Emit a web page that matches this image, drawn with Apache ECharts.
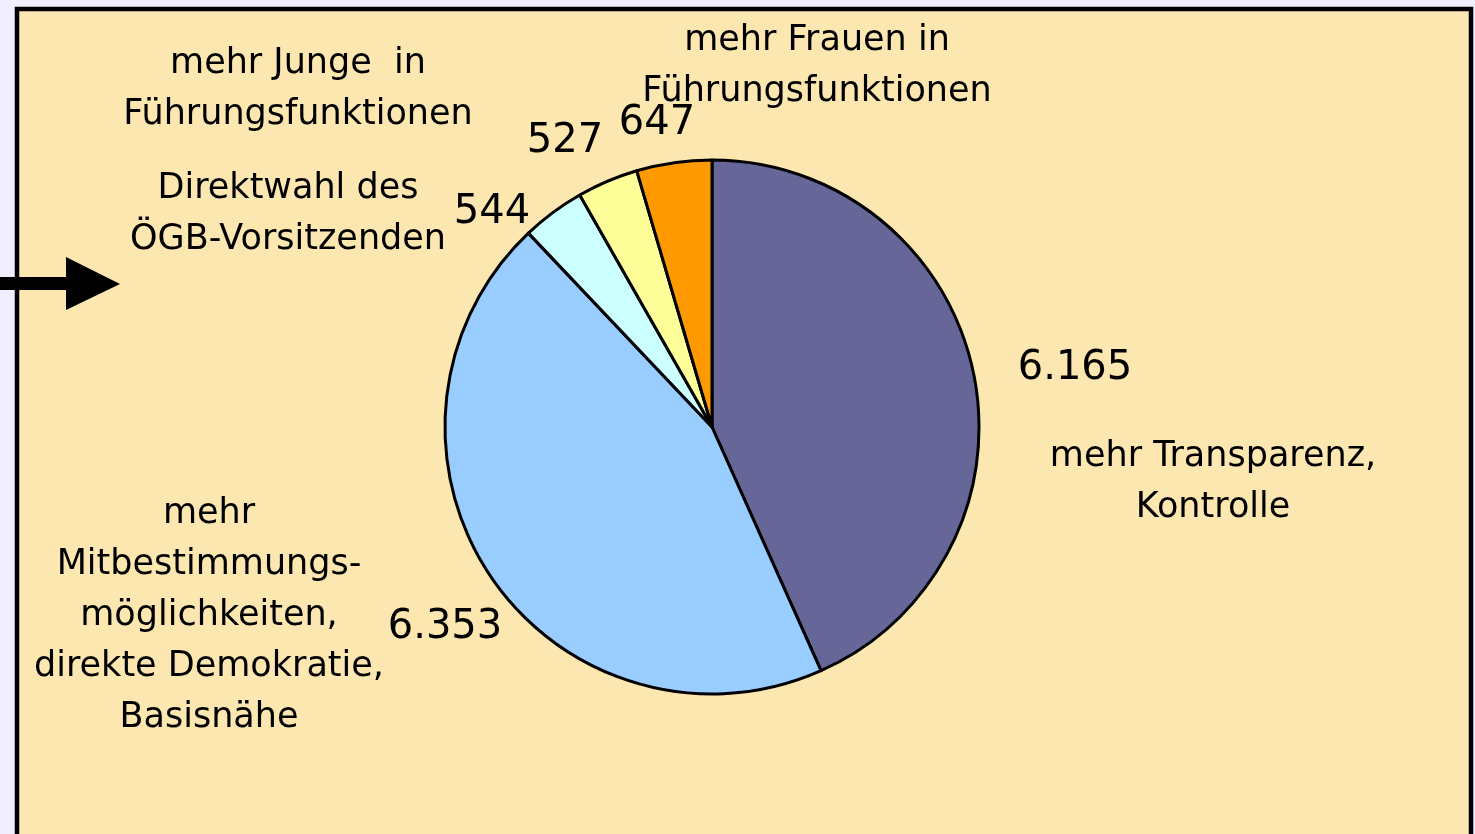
<!DOCTYPE html>
<html>
<head>
<meta charset="utf-8">
<script src="https://cdn.jsdelivr.net/npm/echarts@6/dist/echarts.min.js"></script>
<style>
  html, body { margin: 0; padding: 0; background: #EEEEFF; }
  #main { width: 1475px; height: 834px; }
</style>
</head>
<body>
<div id="main"></div>
<script>
// Daten (Uhrzeigersinn ab 12 Uhr)
const categories = [
    'mehr Transparenz,\nKontrolle',
    'mehr\nMitbestimmungs-\nmöglichkeiten,\ndirekte Demokratie,\nBasisnähe',
    'Direktwahl des\nÖGB-Vorsitzenden',
    'mehr Junge  in\nFührungsfunktionen',
    'mehr Frauen in\nFührungsfunktionen'
];
const values = [6165, 6353, 544, 527, 647];
const colors = ['#666699', '#99CCFF', '#CCFFFF', '#FFFF99', '#FF9900'];

// Positionen der Beschriftungen
const valuePos = [[1075, 369], [445, 628], [492, 213], [565, 142], [657, 124]];
const namePos = [[1213, 482], [209, 616], [288, 214], [298, 89], [817, 66]];

function fmt(v) {
    return String(v).replace(/\B(?=(\d{3})+(?!\d))/g, '.');
}

const pieData = values.map((v, i) => ({
    name: categories[i],
    value: v,
    itemStyle: { color: colors[i] }
}));

const chart = echarts.init(document.getElementById('main'));

const option = {
    backgroundColor: '#EEEEFF',
    animation: false,
    graphic: [
        {
            type: 'rect',
            z: -10,
            shape: { x: 17, y: 9, width: 1454, height: 840 },
            style: { fill: '#FDE7B1', stroke: '#000', lineWidth: 4.5 }
        },
        {
            type: 'rect',
            z: 5,
            shape: { x: 0, y: 277, width: 70, height: 13 },
            style: { fill: '#000' }
        },
        {
            type: 'polygon',
            z: 5,
            shape: { points: [[66, 257], [120, 284], [66, 310]] },
            style: { fill: '#000' }
        }
    ],
    series: [
        {
            type: 'pie',
            center: [712, 427],
            radius: 267,
            startAngle: 90,
            clockwise: true,
            data: pieData,
            itemStyle: { borderColor: '#000', borderWidth: 3 },
            emphasis: { disabled: true },
            label: {
                show: true,
                formatter: p => fmt(p.value),
                fontFamily: 'DejaVu Sans',
                fontSize: 40,
                color: '#000'
            },
            labelLine: { show: false },
            labelLayout: p => ({
                x: valuePos[p.dataIndex][0],
                y: valuePos[p.dataIndex][1],
                align: 'center',
                verticalAlign: 'middle'
            })
        },
        {
            type: 'pie',
            center: [712, 427],
            radius: 267,
            startAngle: 90,
            silent: true,
            data: values.map((v, i) => ({ name: categories[i], value: v })),
            itemStyle: { color: 'rgba(0,0,0,0)', borderWidth: 0 },
            emphasis: { disabled: true },
            label: {
                show: true,
                formatter: '{b}',
                fontFamily: 'DejaVu Sans',
                fontSize: 35,
                lineHeight: 51,
                align: 'center',
                color: '#000'
            },
            labelLine: { show: false },
            labelLayout: p => ({
                x: namePos[p.dataIndex][0],
                y: namePos[p.dataIndex][1],
                align: 'center',
                verticalAlign: 'middle'
            })
        }
    ]
};

chart.setOption(option);
</script>
</body>
</html>
